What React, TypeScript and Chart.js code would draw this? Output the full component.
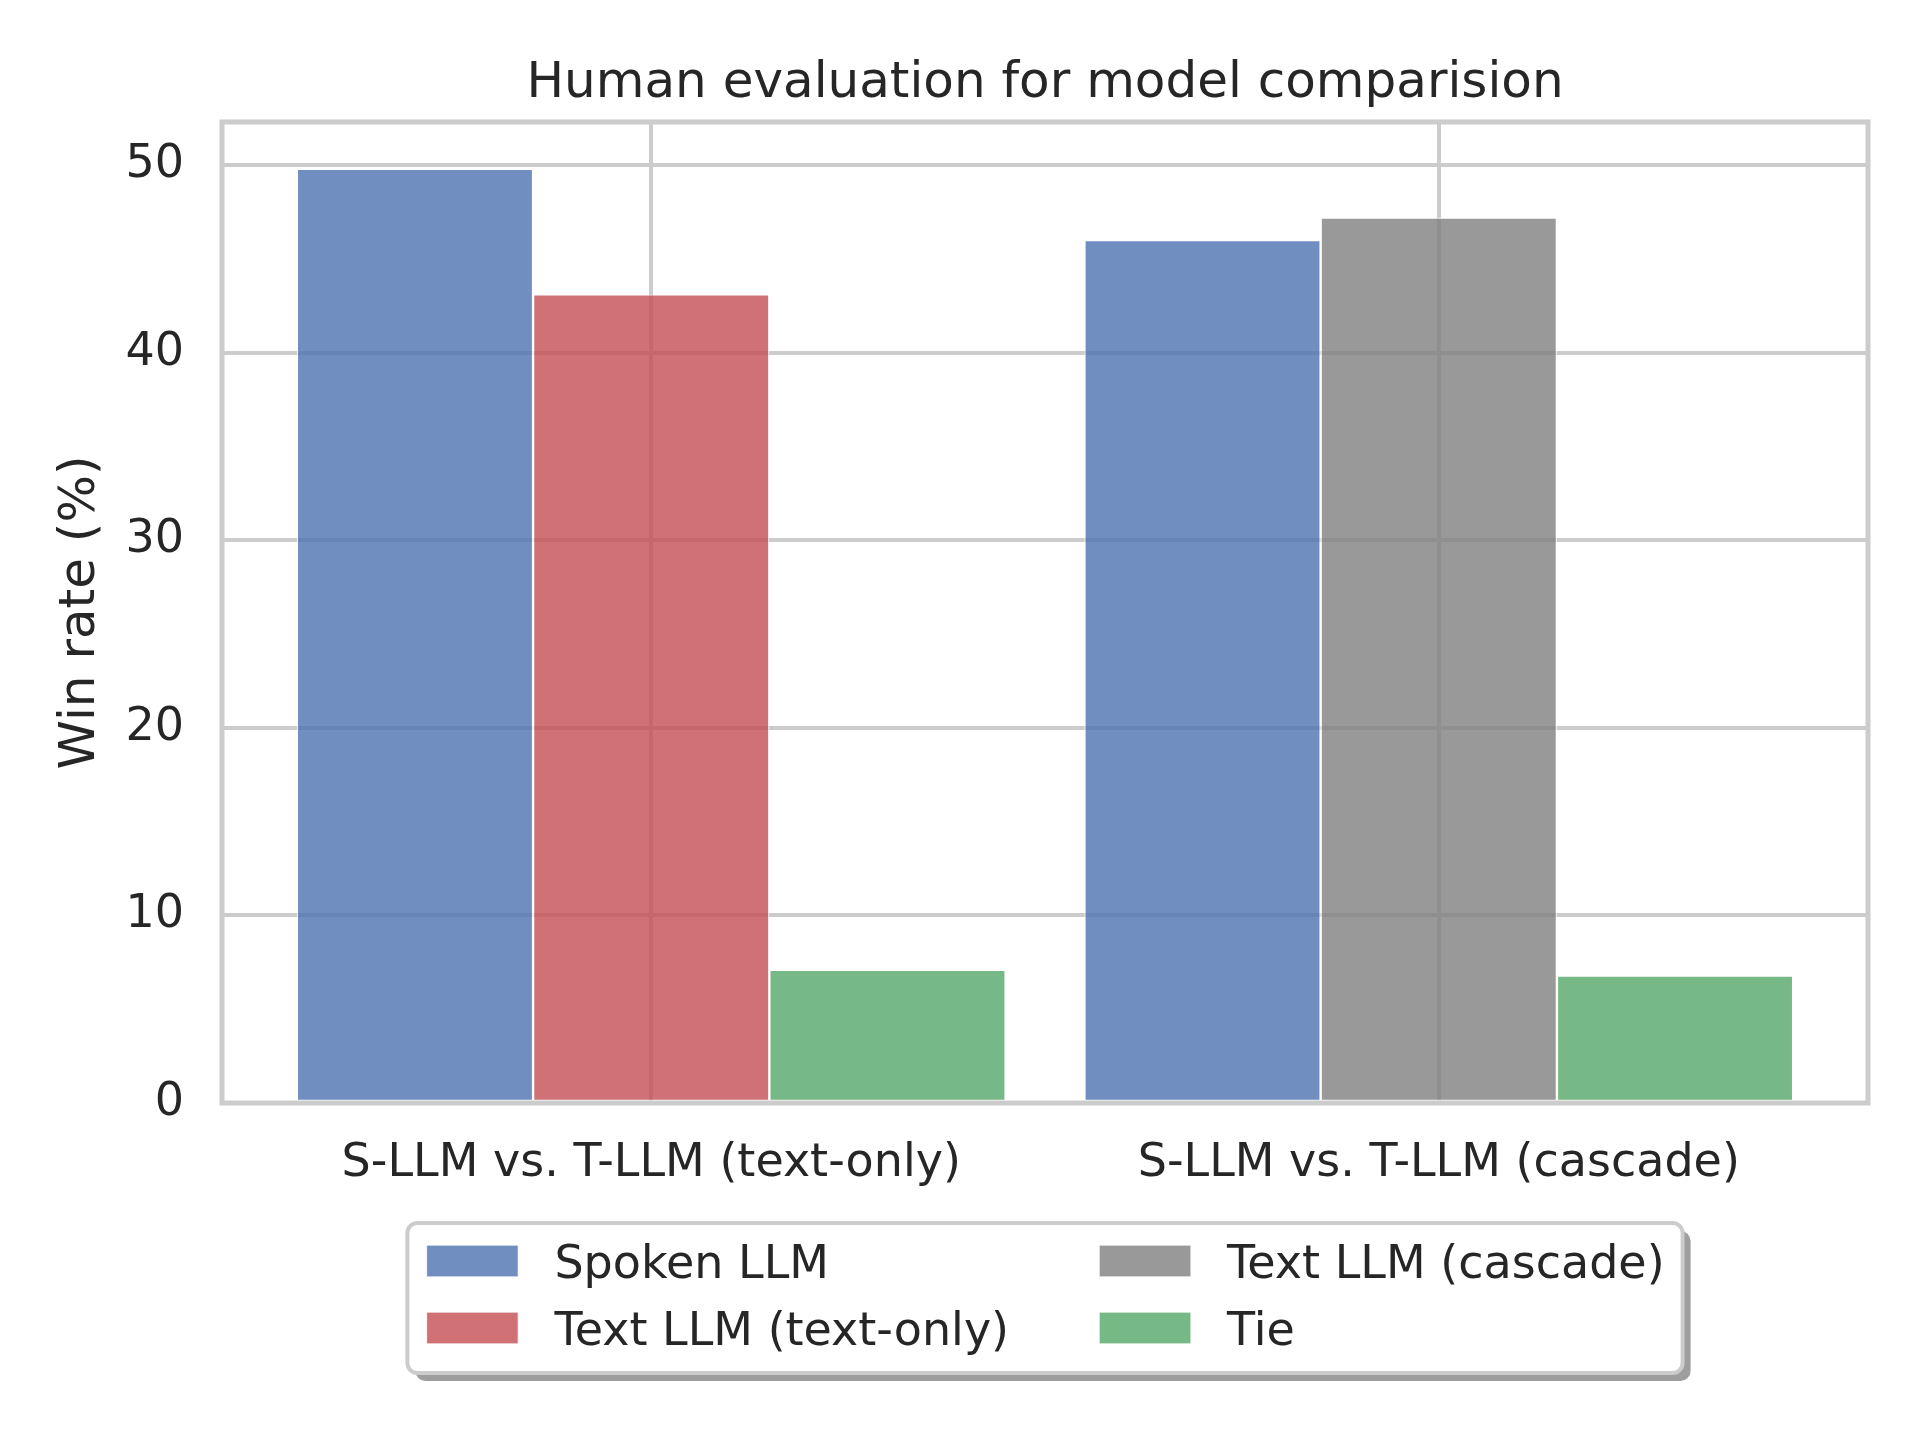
import React, { useEffect, useRef } from 'react';
import { Chart, registerables } from 'chart.js';

Chart.register(...registerables);

// ---- data ----
const categories = ['S-LLM vs. T-LLM (text-only)', 'S-LLM vs. T-LLM (cascade)'];
const categoryPositions = [0, 1];
const seriesNames = ['Spoken LLM', 'Text LLM (text-only)', 'Text LLM (cascade)', 'Tie'];
const spokenLLM = [49.8, 46.0];
const textOnlyLLM = [43.1, null];
const cascadeLLM = [null, 47.2];
const tie = [7.1, 6.8];
const yTicks = [0, 10, 20, 30, 40, 50];

const seriesValues = [spokenLLM, textOnlyLLM, cascadeLLM, tie];
const seriesColors = [
  'rgba(76,114,176,0.8)',
  'rgba(196,78,82,0.8)',
  'rgba(128,128,128,0.8)',
  'rgba(85,168,104,0.8)',
];

const FONT = '"DejaVu Sans", sans-serif';
const TEXT = '#262626';
const GRID = '#cccccc';

// matplotlib style x range: bars span +-0.45, plus 5% margin
const xMin = -0.545;
const xMax = 1.545;
const yMax = Math.max(...seriesValues.flat().filter((v) => v !== null) as number[]) * 1.05;

function roundRectPath(ctx: CanvasRenderingContext2D, x: number, y: number, w: number, h: number, r: number) {
  ctx.beginPath();
  ctx.moveTo(x + r, y);
  ctx.lineTo(x + w - r, y);
  ctx.arcTo(x + w, y, x + w, y + r, r);
  ctx.lineTo(x + w, y + h - r);
  ctx.arcTo(x + w, y + h, x + w - r, y + h, r);
  ctx.lineTo(x + r, y + h);
  ctx.arcTo(x, y + h, x, y + h - r, r);
  ctx.lineTo(x, y + r);
  ctx.arcTo(x, y, x + r, y, r);
  ctx.closePath();
}

// frame on all four sides, over the bars like matplotlib spines
const framePlugin = {
  id: 'frame',
  afterDatasetsDraw(chart: any) {
    const { ctx, chartArea } = chart;
    ctx.save();
    ctx.strokeStyle = GRID;
    ctx.lineWidth = 5;
    ctx.strokeRect(chartArea.left, chartArea.top, chartArea.right - chartArea.left, chartArea.bottom - chartArea.top);
    ctx.restore();
  },
};

const titlePlugin = {
  id: 'plotTitle',
  afterDraw(chart: any) {
    const { ctx, chartArea } = chart;
    ctx.save();
    ctx.font = `50px ${FONT}`;
    ctx.fillStyle = TEXT;
    ctx.textAlign = 'center';
    ctx.textBaseline = 'alphabetic';
    ctx.fillText('Human evaluation for model comparision', (chartArea.left + chartArea.right) / 2, chartArea.top - 25);
    ctx.restore();
  },
};

// 2-column legend with shadow, below the axes
const legendPlugin = {
  id: 'boxLegend',
  afterDraw(chart: any) {
    const { ctx, chartArea } = chart;
    const fs = 46;
    const handleW = 92;
    const handleH = 32;
    const handlePad = 36;
    const colGap = 90;
    const padL = 19;
    const padR = 18;
    const rowPitch = 67;
    const nRows = 2;
    const boxH = 150;

    ctx.save();
    ctx.font = `${fs}px ${FONT}`;
    const items = chart.data.datasets.map((ds: any) => ({ label: ds.label, color: ds.backgroundColor }));
    const cols: any[][] = [];
    items.forEach((it: any, i: number) => {
      const c = Math.floor(i / nRows);
      (cols[c] = cols[c] || []).push(it);
    });
    const colW = cols.map((col) => handleW + handlePad + Math.max(...col.map((it) => ctx.measureText(it.label).width)));
    const boxW = padL + padR + colW.reduce((a, b) => a + b, 0) + colGap * (cols.length - 1);
    const boxX = (chartArea.left + chartArea.right) / 2 - boxW / 2;
    const boxY = chartArea.bottom + 120;

    // shadow
    roundRectPath(ctx, boxX + 8, boxY + 8, boxW, boxH, 10);
    ctx.fillStyle = 'rgba(0,0,0,0.38)';
    ctx.fill();
    // box
    roundRectPath(ctx, boxX, boxY, boxW, boxH, 10);
    ctx.fillStyle = '#ffffff';
    ctx.fill();
    ctx.strokeStyle = GRID;
    ctx.lineWidth = 4;
    ctx.stroke();

    let x = boxX + padL;
    cols.forEach((col, c) => {
      col.forEach((it, r) => {
        const cy = boxY + 38 + r * rowPitch;
        ctx.fillStyle = it.color;
        ctx.fillRect(x, cy - handleH / 2, handleW, handleH);
        ctx.strokeStyle = 'rgba(255,255,255,0.8)';
        ctx.lineWidth = 1.5;
        ctx.strokeRect(x, cy - handleH / 2, handleW, handleH);
        ctx.fillStyle = TEXT;
        ctx.textAlign = 'left';
        ctx.textBaseline = 'alphabetic';
        ctx.fillText(it.label, x + handleW + handlePad, cy + 17);
      });
      x += colW[c] + colGap;
    });
    ctx.restore();
  },
};

const App = () => {
  const canvasRef = useRef<HTMLCanvasElement>(null);

  useEffect(() => {
    const ctx = canvasRef.current && canvasRef.current.getContext('2d');
    if (!ctx) return;

    const datasets = seriesNames.map((name, i) => ({
      label: name,
      data: categoryPositions.map((x, j) => ({ x, y: seriesValues[i][j] })),
      backgroundColor: seriesColors[i],
      borderColor: 'rgba(255,255,255,0.8)',
      borderWidth: 1.2,
      borderSkipped: false,
    }));

    const config: any = {
      type: 'bar',
      data: { datasets },
      plugins: [framePlugin, titlePlugin, legendPlugin],
      options: {
        responsive: false,
        animation: false,
        layout: { padding: { left: 0, top: 122, right: 52, bottom: 0 } },
        datasets: { bar: { categoryPercentage: 0.9, barPercentage: 1.0, skipNull: true } },
        plugins: {
          legend: { display: false },
          title: { display: false },
          tooltip: { enabled: false },
        },
        scales: {
          x: {
            type: 'linear',
            min: xMin,
            max: xMax,
            offset: false,
            afterBuildTicks: (scale: any) => {
              scale.ticks = categoryPositions.map((v) => ({ value: v }));
            },
            afterFit: (scale: any) => {
              scale.height = 337;
            },
            ticks: {
              callback: (v: number) => categories[categoryPositions.indexOf(v)],
              autoSkip: false,
              maxRotation: 0,
              padding: 33,
              color: TEXT,
              font: { family: FONT, size: 46 },
            },
            grid: { color: GRID, lineWidth: 4, drawTicks: false, offset: false },
            border: { display: false },
          },
          y: {
            min: 0,
            max: yMax,
            afterBuildTicks: (scale: any) => {
              scale.ticks = yTicks.map((v) => ({ value: v }));
            },
            afterFit: (scale: any) => {
              scale.width = 222;
            },
            ticks: {
              padding: 38,
              color: TEXT,
              font: { family: FONT, size: 46 },
            },
            grid: { color: GRID, lineWidth: 4, drawTicks: false },
            border: { display: false },
            title: {
              display: true,
              text: 'Win rate (%)',
              color: TEXT,
              font: { family: FONT, size: 50 },
              padding: { top: 51, bottom: 0 },
            },
          },
        },
      },
    };

    const chart = new Chart(ctx, config);
    return () => {
      chart.destroy();
    };
  }, []);

  return (
    <div style={{ position: 'absolute', left: 0, top: 0, width: '1920px', height: '1440px', background: '#fff' }}>
      <canvas ref={canvasRef} width={1920} height={1440} style={{ display: 'block', width: '1920px', height: '1440px' }}></canvas>
    </div>
  );
};

export default App;
